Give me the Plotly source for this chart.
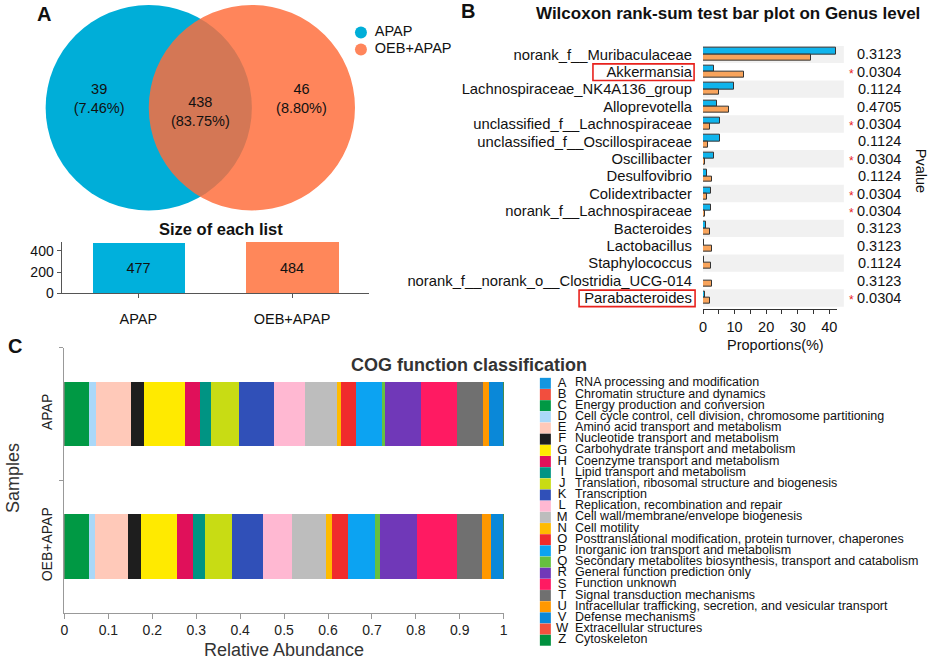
import numpy as np
import plotly.graph_objects as go

W, H = 941, 667
def X(px): return px / W
def Y(py): return 1 - py / H

FONT = "Liberation Sans, Arial, sans-serif"

# ---------------- Panel A data ----------------
venn_groups = ["APAP", "OEB+APAP"]
venn_only = [39, 46]
venn_only_pct = ["7.46%", "8.80%"]
venn_shared = 438
venn_shared_pct = "83.75%"
list_sizes = [477, 484]
venn_colors = ["rgb(0,174,216)", "rgb(255,108,58)"]
bar_colors_a = ["rgb(0,176,220)", "rgb(255,135,90)"]

# ---------------- Panel B data ----------------
genera = ["norank_f__Muribaculaceae", "Akkermansia", "Lachnospiraceae_NK4A136_group",
          "Alloprevotella", "unclassified_f__Lachnospiraceae", "unclassified_f__Oscillospiraceae",
          "Oscillibacter", "Desulfovibrio", "Colidextribacter", "norank_f__Lachnospiraceae",
          "Bacteroides", "Lactobacillus", "Staphylococcus",
          "norank_f__norank_o__Clostridia_UCG-014", "Parabacteroides"]
prop_apap = [42.2, 3.4, 9.9, 4.5, 5.3, 5.3, 3.5, 1.2, 2.5, 2.6, 1.0, 0.2, 0.2, 0.1, 0.7]
prop_oeb = [34.1, 13.0, 5.2, 8.3, 2.3, 1.6, 0.5, 2.8, 1.25, 0.7, 2.2, 2.9, 2.6, 2.9, 2.2]
pvalues = [0.3123, 0.0304, 0.1124, 0.4705, 0.0304, 0.1124, 0.0304, 0.1124, 0.0304,
           0.0304, 0.3123, 0.3123, 0.1124, 0.3123, 0.0304]
highlighted = ["Akkermansia", "Parabacteroides"]
prop_ticks = [0, 5, 10, 15, 20, 25, 30, 35, 40]

# ---------------- Panel C data ----------------
samples = ["APAP", "OEB+APAP"]
cog_codes = ["A", "B", "C", "D", "E", "F", "G", "H", "I", "J", "K", "L", "M", "N", "O",
             "P", "Q", "R", "S", "T", "U", "V", "W", "Z"]
cog_names = ["RNA processing and modification", "Chromatin structure and dynamics",
             "Energy production and conversion",
             "Cell cycle control, cell division, chromosome partitioning",
             "Amino acid transport and metabolism", "Nucleotide transport and metabolism",
             "Carbohydrate transport and metabolism", "Coenzyme transport and metabolism",
             "Lipid transport and metabolism", "Translation, ribosomal structure and biogenesis",
             "Transcription", "Replication, recombination and repair",
             "Cell wall/membrane/envelope biogenesis", "Cell motility",
             "Posttranslational modification, protein turnover, chaperones",
             "Inorganic ion transport and metabolism",
             "Secondary metabolites biosynthesis, transport and catabolism",
             "General function prediction only", "Function unknown",
             "Signal transduction mechanisms",
             "Intracellular trafficking, secretion, and vesicular transport",
             "Defense mechanisms", "Extracellular structures", "Cytoskeleton"]
cog_colors = ["#1496e0", "#f24e3e", "#009944", "#aad8f8", "#ffc9b9", "#1e1e1e", "#ffea00",
              "#e0105a", "#009483", "#c8dc14", "#3050b8", "#ffb8d2", "#bdbdbd", "#ffbb00",
              "#f02c2c", "#0ca3f2", "#66c040", "#7038b8", "#ff1a62", "#707070", "#ff9800",
              "#0a88d8", "#f2503e", "#00903e"]
cog_apap = [0.0004, 0.0002, 0.057, 0.015, 0.079, 0.031, 0.094, 0.033, 0.024, 0.065, 0.079,
            0.072, 0.071, 0.011, 0.034, 0.059, 0.007, 0.081, 0.082, 0.059, 0.015, 0.031,
            0.0003, 0.0002]
cog_oeb = [0.0004, 0.0002, 0.057, 0.012, 0.077, 0.029, 0.082, 0.035, 0.028, 0.063, 0.069,
           0.066, 0.079, 0.012, 0.036, 0.062, 0.011, 0.085, 0.092, 0.055, 0.022, 0.027,
           0.0003, 0.0002]
abund_ticks = [0, 0.1, 0.2, 0.3, 0.4, 0.5, 0.6, 0.7, 0.8, 0.9, 1.0]

fig = go.Figure()

# ---------- Panel A: Venn ----------
venn_cx = [146, 250]
venn_cy = 109
venn_r = 104
shapes = []
for i, c in enumerate(venn_colors):
    shapes.append(dict(type="circle", xref="x", yref="y",
                       x0=venn_cx[i] - venn_r, x1=venn_cx[i] + venn_r,
                       y0=venn_cy - venn_r, y1=venn_cy + venn_r,
                       fillcolor=c, opacity=1 if i == 0 else 0.83,
                       line=dict(width=0), layer="below"))

venn_label_x = [96, (venn_cx[0] + venn_cx[1]) / 2, 300]
venn_label_y = [101, 114, 101]
venn_texts = [f"{venn_only[0]}<br>({venn_only_pct[0]})",
              f"{venn_shared}<br>({venn_shared_pct})",
              f"{venn_only[1]}<br>({venn_only_pct[1]})"]
fig.add_trace(go.Scatter(x=venn_label_x, y=venn_label_y, mode="text", text=venn_texts,
                         textfont=dict(family=FONT, size=14.5, color="#111"),
                         xaxis="x", yaxis="y", hoverinfo="skip", showlegend=False))
# legend of Venn
fig.add_trace(go.Scatter(x=[360, 360], y=[33, 50], mode="markers",
                         marker=dict(size=12, color=venn_colors, opacity=[1, 0.83]),
                         xaxis="x", yaxis="y", hoverinfo="skip", showlegend=False,
                         cliponaxis=False))
fig.add_trace(go.Scatter(x=[374, 374], y=[33, 50], mode="text", text=venn_groups,
                         textposition="middle right",
                         textfont=dict(family=FONT, size=14.5, color="#111"),
                         xaxis="x", yaxis="y", hoverinfo="skip", showlegend=False,
                         cliponaxis=False))

# ---------- Panel A: size of each list ----------
fig.add_trace(go.Bar(x=venn_groups, y=list_sizes, width=0.6,
                     marker=dict(color=bar_colors_a, line=dict(width=0)),
                     text=[str(v) for v in list_sizes], textposition="inside",
                     insidetextanchor="middle",
                     textfont=dict(family=FONT, size=14.5, color="#111"),
                     xaxis="x4", yaxis="y4", hoverinfo="skip", showlegend=False))

# ---------- Panel B ----------
rows = list(range(len(genera)))
fig.add_trace(go.Bar(y=rows, x=prop_apap, orientation="h", offset=-0.36, width=0.36,
                     marker=dict(color="#10b4ec", line=dict(color="#333", width=1)),
                     xaxis="x2", yaxis="y2", hoverinfo="skip", showlegend=False))
fig.add_trace(go.Bar(y=rows, x=prop_oeb, orientation="h", offset=0.0, width=0.34,
                     marker=dict(color="#f8a45c", line=dict(color="#333", width=1)),
                     xaxis="x2", yaxis="y2", hoverinfo="skip", showlegend=False))
for r in rows:
    if r % 2 == 0:
        shapes.append(dict(type="rect", xref="x2 domain", yref="y2", x0=0, x1=1.052,
                           y0=r - 0.5, y1=r + 0.5, fillcolor="#f1f1f1",
                           line=dict(width=0), layer="below"))
box_x = {"Akkermansia": (594, 696), "Parabacteroides": (580, 697)}
for g in highlighted:
    r = genera.index(g)
    shapes.append(dict(type="rect", xref="paper", yref="y2",
                       x0=X(box_x[g][0]), x1=X(box_x[g][1]), y0=r - 0.45, y1=r + 0.5,
                       line=dict(color="#e8211c", width=1.6), fillcolor="rgba(0,0,0,0)"))

# ---------- Panel C ----------
apap_base = np.concatenate([[0], np.cumsum(cog_apap)[:-1]])
oeb_base = np.concatenate([[0], np.cumsum(cog_oeb)[:-1]])
for i, code in enumerate(cog_codes):
    fig.add_trace(go.Bar(y=samples, x=[cog_apap[i], cog_oeb[i]],
                         base=[apap_base[i], oeb_base[i]], orientation="h", width=0.485,
                         marker=dict(color=cog_colors[i], line=dict(width=0)),
                         xaxis="x3", yaxis="y3", hoverinfo="skip", showlegend=False))

# legend for panel C
lg_rows = list(range(len(cog_codes)))
fig.add_trace(go.Scatter(x=[11] * len(lg_rows), y=lg_rows, mode="markers",
                         marker=dict(symbol="square", size=11, color=cog_colors),
                         xaxis="x5", yaxis="y5", hoverinfo="skip", showlegend=False,
                         cliponaxis=False))
fig.add_trace(go.Scatter(x=[28] * len(lg_rows), y=lg_rows, mode="text", text=cog_codes,
                         textfont=dict(family=FONT, size=13, color="#111"),
                         xaxis="x5", yaxis="y5", hoverinfo="skip", showlegend=False,
                         cliponaxis=False))
fig.add_trace(go.Scatter(x=[41] * len(lg_rows), y=lg_rows, mode="text", text=cog_names,
                         textposition="middle right",
                         textfont=dict(family=FONT, size=12.5, color="#111"),
                         xaxis="x5", yaxis="y5", hoverinfo="skip", showlegend=False,
                         cliponaxis=False))

def ann(text, x, y, size, bold=False, color="#111", angle=0, xanchor="center"):
    return dict(text=f"<b>{text}</b>" if bold else text, x=X(x), y=Y(y), xref="paper",
                yref="paper", showarrow=False, textangle=angle, xanchor=xanchor,
                yanchor="middle", font=dict(family=FONT, size=size, color=color))

annotations = [
    ann("A", 40, 14, 20, True),
    ann("B", 468, 11, 20, True),
    ann("C", 11, 350, 20, True),
    ann("Size of each list", 219, 232, 16.5, True),
    ann("Wilcoxon rank-sum test bar plot on Genus level", 730, 14, 17, True),
    ann("Pvalue", 925, 173, 14.5, angle=90),
    ann("Proportions(%)", 778, 349, 14.5),
    ann("COG function classification", 469, 369, 18, True, color="#333"),
    ann("Relative Abundance", 282, 658, 18, color="#333"),
    ann("Samples", 9, 484, 18, color="#333", angle=-90),
]
# p-values and significance stars for panel B
for r, p in zip(rows, pvalues):
    annotations.append(dict(text=f"{p:.4f}", x=X(883), y=r, xref="paper", yref="y2",
                            showarrow=False, xanchor="center", yanchor="middle",
                            font=dict(family=FONT, size=14.5, color="#111")))
    if p < 0.05:
        annotations.append(dict(text="*", x=X(855), y=r + 0.12, xref="paper", yref="y2",
                                showarrow=False, xanchor="center", yanchor="middle",
                                font=dict(family=FONT, size=12, color="#e8211c")))

tickfont = dict(family=FONT, size=14.5, color="#111")
fig.update_layout(
    width=W, height=H, autosize=False,
    margin=dict(l=0, r=0, t=0, b=0),
    paper_bgcolor="white", plot_bgcolor="rgba(0,0,0,0)",
    barmode="overlay", bargap=0, hovermode=False,
    shapes=shapes, annotations=annotations,
    xaxis=dict(domain=[0, X(470)], range=[0, 470], visible=False, anchor="y"),
    yaxis=dict(domain=[Y(225), 1], range=[225, 0], visible=False, anchor="x"),
    xaxis2=dict(domain=[X(705), X(840)], range=[0, 42.4], anchor="y2",
                showline=True, linecolor="#333", linewidth=1, ticks="outside", ticklen=4,
                tickcolor="#333", tickvals=prop_ticks,
                ticktext=[str(t) if t % 10 == 0 else "" for t in prop_ticks],
                tickfont=tickfont, showgrid=False, zeroline=False),
    yaxis2=dict(domain=[Y(313), Y(46.2)], range=[14.65, -0.5], anchor="x2",
                tickvals=rows, ticktext=genera, tickfont=dict(family=FONT, size=14.8, color="#111"),
                showline=False, ticks="", ticklabelstandoff=10, showgrid=False, zeroline=False),
    xaxis3=dict(domain=[X(61), X(504)], range=[0, 1.0], anchor="y3",
                showline=True, linecolor="#999", linewidth=1, ticks="outside", ticklen=5,
                tickcolor="#999", tickvals=abund_ticks,
                ticktext=[f"{t:g}" for t in abund_ticks],
                tickfont=dict(family=FONT, size=14, color="#222"), showgrid=False, zeroline=False),
    yaxis3=dict(domain=[Y(620), Y(352)], type="category", categoryorder="array",
                categoryarray=samples, range=[1.5, -0.5], anchor="x3",
                showline=True, linecolor="#999", linewidth=1, ticks="outside", ticklen=4,
                tickcolor="#999", tickson="boundaries", tickangle=-90,
                ticklabelstandoff=6,
                tickfont=dict(family=FONT, size=14, color="#222"), showgrid=False, zeroline=False),
    xaxis4=dict(domain=[X(58), X(368)], type="category", range=[-0.5, 1.5], anchor="y4",
                showline=True, linecolor="#555", linewidth=1, ticks="outside", ticklen=4,
                tickcolor="#555", ticklabelstandoff=8, tickfont=tickfont,
                showgrid=False, zeroline=False),
    yaxis4=dict(domain=[Y(297), Y(245)], range=[0, 484], anchor="x4",
                showline=True, linecolor="#555", linewidth=1, ticks="outside", ticklen=4,
                tickcolor="#555", tickvals=[0, 200, 400], tickfont=dict(family=FONT, size=14, color="#111"),
                showgrid=False, zeroline=False),
    xaxis5=dict(domain=[X(535), 1], range=[0, 406], visible=False, anchor="y5"),
    yaxis5=dict(domain=[Y(653.65), Y(382.35)], range=[23.5, -0.5], visible=False, anchor="x5"),
)

fig.write_html("out.html", config={"displayModeBar": False},
               post_script="document.body.style.margin='0px';document.body.style.overflow='hidden';")
